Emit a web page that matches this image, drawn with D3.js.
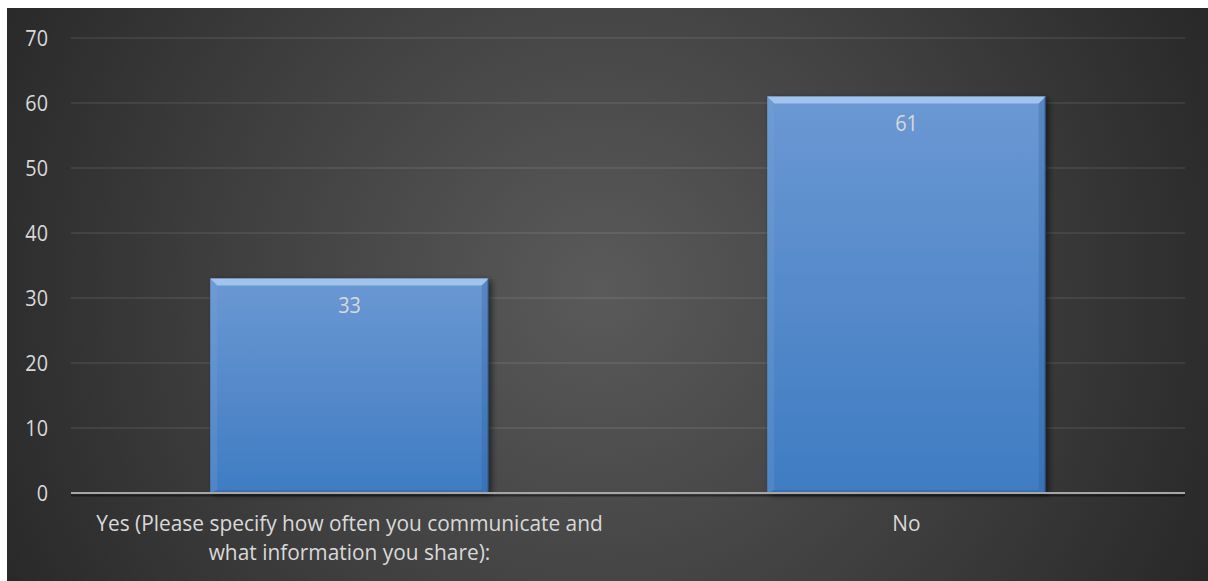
<!DOCTYPE html>
<html><head><meta charset="utf-8">
<script src="https://cdn.jsdelivr.net/npm/d3@7"></script>
<style>html,body{margin:0;padding:0;background:#fff;overflow:hidden}</style>
</head><body>
<svg id="c" width="1208" height="581"></svg>
<script>
const categories = ["Yes (Please specify how often you communicate and what information you share):", "No"];
const categoryLines = [["Yes (Please specify how often you communicate and", "what information you share):"], ["No"]];
const values = [33, 61];
const yTicks = [0, 10, 20, 30, 40, 50, 60, 70];

const W = 1208, H = 581;
const FS = 22, SX = 0.9, SXL = 0.95;
const svg = d3.select("#c");
const defs = svg.append("defs");

const bg = defs.append("radialGradient").attr("id", "bg")
  .attr("gradientUnits", "userSpaceOnUse").attr("cx", 600).attr("cy", 290).attr("r", 700);
bg.append("stop").attr("offset", "0").attr("stop-color", "#5a5a5a");
bg.append("stop").attr("offset", "0.55").attr("stop-color", "#3e3e3e");
bg.append("stop").attr("offset", "1").attr("stop-color", "#262626");

const barG = defs.append("linearGradient").attr("id", "barG").attr("x1", 0).attr("y1", 0).attr("x2", 0).attr("y2", 1);
barG.append("stop").attr("offset", "0").attr("stop-color", "#6b98d3");
barG.append("stop").attr("offset", "1").attr("stop-color", "#3f7cc2");

const sh = defs.append("filter").attr("id", "sh").attr("x", "-10%").attr("y", "-10%").attr("width", "130%").attr("height", "130%");
sh.append("feGaussianBlur").attr("in", "SourceAlpha").attr("stdDeviation", 3);
sh.append("feOffset").attr("dx", 3).attr("dy", 2).attr("result", "o");
sh.append("feComponentTransfer").append("feFuncA").attr("type", "linear").attr("slope", 0.55);
const m = sh.append("feMerge"); m.append("feMergeNode"); m.append("feMergeNode").attr("in", "SourceGraphic");

svg.append("rect").attr("x", 7).attr("y", 8).attr("width", W - 7).attr("height", H - 8).attr("fill", "url(#bg)");

const x = d3.scaleBand().domain(categories).range([71, 1185]).paddingInner(0.5).paddingOuter(0.25);
const y = d3.scaleLinear().domain([0, 70]).range([493, 38]);

// gridlines
svg.append("g").selectAll("line").data(yTicks.filter(d => d > 0)).join("line")
  .attr("x1", 71).attr("x2", 1185).attr("y1", d => y(d)).attr("y2", d => y(d))
  .attr("stroke", "#ffffff").attr("stroke-opacity", 0.1).attr("stroke-width", 1.3);

// y axis labels
const yAxis = d3.axisLeft(y).tickValues(yTicks).tickSize(0).tickPadding(0).tickFormat(d3.format("d"));
const ya = svg.append("g").attr("transform", "translate(48,0)").call(yAxis);
ya.select(".domain").remove();
ya.selectAll(".tick text").attr("x", 0).attr("y", 7).attr("dy", null).attr("fill", "#d9d9d9")
  .attr("font-family", "'Open Sans', sans-serif")
  .attr("font-size", FS).attr("text-anchor", "end").attr("transform", `scale(${SX},1)`);

// bars
const bars = svg.append("g").selectAll("g").data(values).join("g");
bars.append("rect")
  .attr("x", (d, i) => x(categories[i])).attr("y", d => y(d))
  .attr("width", x.bandwidth()).attr("height", d => y(0) - y(d))
  .attr("fill", "url(#barG)").attr("filter", "url(#sh)");
const b = 7;
bars.append("polygon").attr("points", (d, i) => {
  const x0 = x(categories[i]), x1 = x0 + x.bandwidth(), t = y(d);
  return [[x0, t], [x1, t], [x1 - b, t + b], [x0 + b, t + b]].join(" ");
}).attr("fill", "#a9cbf2").attr("fill-opacity", 0.85);
bars.append("polygon").attr("points", (d, i) => {
  const x0 = x(categories[i]), t = y(d), bo = y(0);
  return [[x0, t], [x0 + b, t + b], [x0 + b, bo - 3], [x0, bo]].join(" ");
}).attr("fill", "#7aa5dc").attr("fill-opacity", 0.25);
bars.append("polygon").attr("points", (d, i) => {
  const x1 = x(categories[i]) + x.bandwidth(), t = y(d), bo = y(0);
  return [[x1, t], [x1 - b, t + b], [x1 - b, bo - 3], [x1, bo]].join(" ");
}).attr("fill", "#2d5c96").attr("fill-opacity", 0.3);
bars.append("polygon").attr("points", (d, i) => {
  const x0 = x(categories[i]), x1 = x0 + x.bandwidth(), bo = y(0);
  return [[x0, bo], [x1, bo], [x1 - b, bo - 3], [x0 + b, bo - 3]].join(" ");
}).attr("fill", "#2d5c96").attr("fill-opacity", 0.35);
bars.append("line")
  .attr("x1", (d, i) => x(categories[i]) + x.bandwidth() - 0.5).attr("x2", (d, i) => x(categories[i]) + x.bandwidth() - 0.5)
  .attr("y1", d => y(d)).attr("y2", y(0)).attr("stroke", "#1e3f6a").attr("stroke-width", 1);

// value labels
bars.append("text")
  .attr("transform", (d, i) => `translate(${x(categories[i]) + x.bandwidth() / 2},${y(d) + 34.5}) scale(${SX},1)`)
  .attr("text-anchor", "middle").attr("fill", "#d9d9d9")
  .attr("font-family", "'Open Sans', sans-serif").attr("font-size", FS)
  .text(d => d);

// x axis line with shadow
svg.append("line").attr("x1", 71).attr("x2", 1185).attr("y1", y(0) + 2.5).attr("y2", y(0) + 2.5)
  .attr("stroke", "#000").attr("stroke-opacity", 0.45).attr("stroke-width", 2);
svg.append("line").attr("x1", 71).attr("x2", 1185).attr("y1", y(0)).attr("y2", y(0))
  .attr("stroke", "#a6a6a6").attr("stroke-width", 2.2);

// category labels
const xl = svg.append("g").selectAll("text").data(categories).join("text")
  .attr("transform", d => `translate(${x(d) + x.bandwidth() / 2},531) scale(${SXL},1)`)
  .attr("text-anchor", "middle").attr("fill", "#d9d9d9")
  .attr("font-family", "'Open Sans', sans-serif").attr("font-size", FS);
xl.each(function(d, i) {
  d3.select(this).selectAll("tspan").data(categoryLines[i]).join("tspan")
    .attr("x", 0).attr("dy", (t, j) => j === 0 ? 0 : 29).text(t => t);
});
</script>
</body></html>
